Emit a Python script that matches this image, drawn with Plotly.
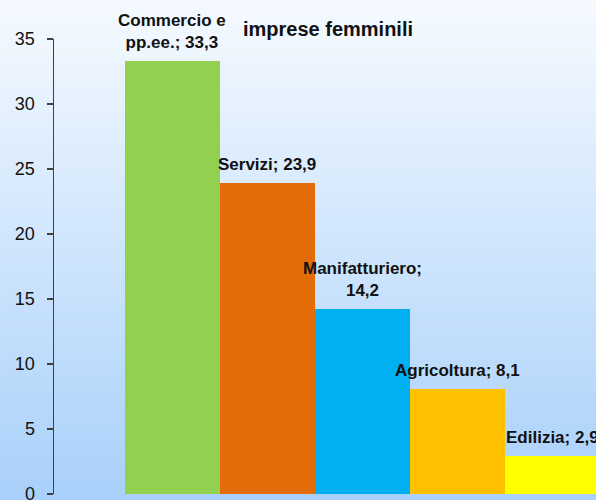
import plotly.graph_objects as go

categories = ["Commercio e pp.ee.", "Servizi", "Manifatturiero", "Agricoltura", "Edilizia"]
label_lines = ["Commercio e<br>pp.ee.", "Servizi", "Manifatturiero;<br>", "Agricoltura", "Edilizia"]
values = [33.3, 23.9, 14.2, 8.1, 2.9]
colors = ["#92d050", "#e36c09", "#00b0f0", "#ffc000", "#ffff00"]
title_text = "imprese femminili"
y_ticks = [0, 5, 10, 15, 20, 25, 30, 35]

FONT = "Liberation Sans Narrow, Arial Narrow, Liberation Sans, Arial, sans-serif"

def fmt(v):
    return f"{v:.1f}".replace(".", ",")

labels = []
for lab, v in zip(label_lines, values):
    if lab.endswith("<br>"):
        labels.append(f"{lab}{fmt(v)}")
    else:
        labels.append(f"{lab}; {fmt(v)}")

fig = go.Figure(go.Bar(
    x=categories, y=values,
    marker=dict(color=colors, line=dict(width=0)),
    hoverinfo="skip",
))

W, H = 596, 500
ml, mr, mt, mb = 54, 0, 39, 6
pw, ph = W - ml - mr, H - mt - mb

# vertical gradient background
top = (246, 250, 255)
bot = (168, 208, 250)
n = 100
shapes = []
for i in range(n):
    f = (i + 0.5) / n
    c = tuple(round(top[k] + (bot[k] - top[k]) * f) for k in range(3))
    y_top_px = H * i / n
    y_bot_px = H * (i + 1) / n
    y1 = (H - mb - y_top_px) / ph
    y0 = (H - mb - y_bot_px) / ph
    shapes.append(dict(type="rect", xref="paper", yref="paper",
                       x0=-ml / pw - 0.01, x1=1.01, y0=y0 - 0.001, y1=y1 + 0.001,
                       fillcolor=f"rgb{c}", line=dict(width=0), layer="below"))

annotations = []
for cat, v, t in zip(categories, values, labels):
    annotations.append(dict(x=cat, y=v, xref="x", yref="y", text=f"<b>{t}</b>", showarrow=False,
                            yanchor="bottom", xanchor="center", yshift=7,
                            font=dict(family=FONT, size=17, color="#111111")))

fig.update_layout(
    template="none",
    width=W, height=H,
    margin=dict(l=ml, r=mr, t=mt, b=mb, pad=0, autoexpand=False),
    paper_bgcolor="#ffffff", plot_bgcolor="rgba(0,0,0,0)",
    bargap=0,
    showlegend=False,
    shapes=shapes,
    annotations=annotations,
    title=dict(text=f"<b>{title_text}</b>", x=328 / W, xref="container", xanchor="center",
               y=1 - 29 / H, yref="container", yanchor="middle",
               font=dict(family=FONT, size=20, color="#111111")),
    font=dict(family=FONT, color="#111111"),
    xaxis=dict(range=[-1.247, 4.458], showticklabels=False, showline=False,
               showgrid=False, zeroline=False, ticks="", automargin=False),
    yaxis=dict(range=[0, 35], tickvals=y_ticks, showgrid=False, zeroline=False,
               showline=True, linecolor="#404040", linewidth=1.5,
               ticks="outside", ticklen=6, tickcolor="#404040", tickwidth=1.5,
               ticklabelstandoff=8, automargin=False, ticklabeloverflow="allow",
               tickfont=dict(family=FONT, size=18, color="#111111")),
)

fig.write_html(
    "out.html",
    config={"displayModeBar": False, "staticPlot": True},
    post_script="document.documentElement.style.margin='0';document.body.style.margin='0';"
                "document.body.style.overflow='hidden';",
)
